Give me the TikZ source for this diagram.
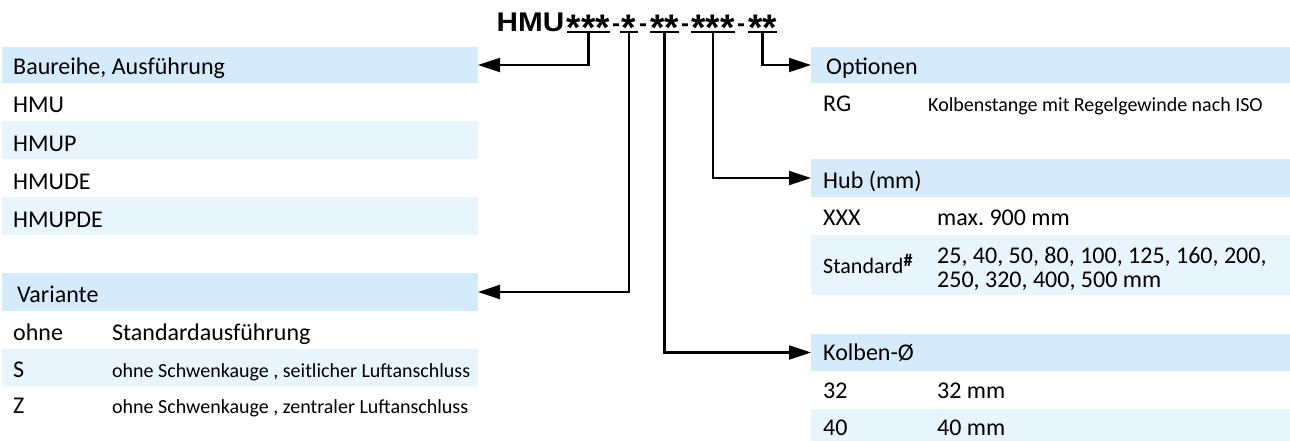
\documentclass[tikz,border=0pt]{standalone}
\usepackage{fontspec}
\setmainfont{Carlito}
\newfontfamily\titlefont{Liberation Sans}
\usetikzlibrary{arrows.meta}
\definecolor{hdr}{RGB}{213,234,250}
\definecolor{lite}{RGB}{233,245,253}
\newcommand\bigf{\fontsize{24}{28}\selectfont}
\newcommand\smallf{\fontsize{20}{24}\selectfont}
\newcommand\st{\makebox[14.6pt]{\raisebox{-8.5pt}{*}}}
\frenchspacing
\begin{document}
\begin{tikzpicture}[x=1pt,y=-1pt,
  hdrbox/.style={fill=hdr, draw=none, inner sep=0, outer sep=0, anchor=north west},
  litebox/.style={fill=lite, draw=none, inner sep=0, outer sep=0, anchor=north west},
  txt/.style={anchor=base west, inner sep=0, font=\bigf},
  stxt/.style={anchor=base west, inner sep=0, font=\smallf},
  grp/.style={anchor=base, inner sep=0, outer sep=0, font=\titlefont\bfseries\fontsize{37}{37}\selectfont},
  dsh/.style={anchor=base, inner sep=0, font=\titlefont\bfseries\fontsize{24}{24}\selectfont},
  ul/.style={line width=2pt},
  conn/.style={line width=2.2pt, -{Triangle[length=22pt,width=14pt]}},
]
\useasboundingbox (0,0) rectangle (1290,441);

% ---- title ----
\node[anchor=base, inner sep=0, font=\titlefont\bfseries\fontsize{27}{27}\selectfont] (hmu) at (530.5,32) {\scalebox{1.1}[1]{HMU}};
\node[grp] (g1) at (588.5,32) {\st\st\st};
\node[dsh] (d1) at (616,32) {-};
\node[grp] (g2) at (629,32) {\makebox[18pt]{\raisebox{-8.5pt}{*}}};
\node[dsh] (d2) at (643,32) {-};
\node[grp] (g3) at (664.5,32) {\st\st};
\node[dsh] (d3) at (685,32) {-};
\node[grp] (g4) at (713,32) {\st\st\st};
\node[dsh] (d4) at (741,32) {-};
\node[grp] (g5) at (762.5,32) {\st\st};
\foreach \g in {g1,g2,g3,g4,g5} \draw[ul] (\g.base west) -- (\g.base east);

% ---- left table A ----
\node[hdrbox, minimum width=476pt, minimum height=36pt] (hA) at (2,47) {};
\node[litebox, minimum width=476pt, minimum height=38pt] (rA2) at (2,121) {};
\node[litebox, minimum width=476pt, minimum height=38pt] (rA4) at (2,197) {};
\node[txt] (tA) at (13,75) {Baureihe, Ausführung};
\node[txt] (tA1) at (13,113) {HMU};
\node[txt] (tA2) at (13,151) {HMUP};
\node[txt] (tA3) at (13,189) {HMUDE};
\node[txt] (tA4) at (13,227) {HMUPDE};

% ---- left table B ----
\node[hdrbox, minimum width=476pt, minimum height=38pt] (hB) at (2,273) {};
\node[litebox, minimum width=476pt, minimum height=37pt] (rB2) at (2,349) {};
\node[txt] (tB) at (17,302) {Variante};
\node[txt] (tB1) at (13,340) {ohne};
\node[txt] (tB1b) at (112,340) {Standardausführung};
\node[txt] (tB2) at (13,377) {S};
\node[stxt] (tB2b) at (112,377) {ohne Schwenkauge , seitlicher Luftanschluss};
\node[txt] (tB3) at (13,413) {Z};
\node[stxt] (tB3b) at (112,413) {ohne Schwenkauge , zentraler Luftanschluss};

% ---- right table C (Optionen) ----
\node[hdrbox, minimum width=479pt, minimum height=36pt] (hC) at (811,47) {};
\node[txt] (tC) at (826,75) {Optionen};
\node[txt] (tC1) at (823,112) {RG};
\node[stxt] (tC1b) at (928,112) {Kolbenstange mit Regelgewinde nach ISO};

% ---- right table D (Hub) ----
\node[hdrbox, minimum width=479pt, minimum height=38pt] (hD) at (811,159) {};
\node[litebox, minimum width=479pt, minimum height=60pt] (rD2) at (811,235) {};
\node[txt] (tD) at (823,188) {Hub (mm)};
\node[txt] (tD1) at (823,225) {XXX};
\node[txt] (tD1b) at (937,225) {max. 900 mm};
\node[anchor=base west, inner sep=0, font=\fontsize{22}{24}\selectfont] (tD2) at (823,273) {Standard\raisebox{7pt}{\fontsize{18}{18}\selectfont\bfseries\#}};
\node[txt] (tD2b) at (937,263) {25, 40, 50, 80, 100, 125, 160, 200,};
\node[txt] (tD2c) at (937,287) {250, 320, 400, 500 mm};

% ---- right table E (Kolben) ----
\node[hdrbox, minimum width=479pt, minimum height=37pt] (hE) at (811,334) {};
\node[litebox, minimum width=479pt, minimum height=38pt] (rE2) at (811,409) {};
\node[txt] (tE) at (823,360) {Kolben-Ø};
\node[txt] (tE1) at (823,398) {32};
\node[txt] (tE1b) at (937,398) {32 mm};
\node[txt] (tE2) at (823,435) {40};
\node[txt] (tE2b) at (937,435) {40 mm};

% ---- connectors ----
\draw[conn] (g1.base) |- (hA.east);
\draw[conn] (g2.base) |- (hB.east);
\draw[conn] (g3.base) |- (hE.west);
\draw[conn] (g4.base) |- (hD.west);
\draw[conn] (g5.base) |- (hC.west);
\end{tikzpicture}
\end{document}
